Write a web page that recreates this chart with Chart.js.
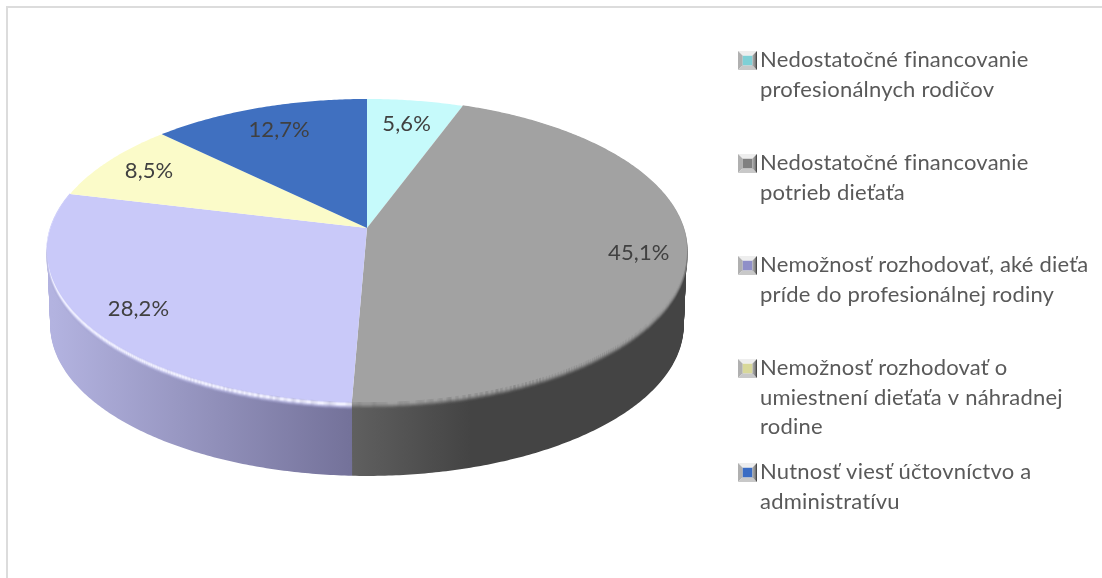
<!DOCTYPE html>
<html lang="sk">
<head>
<meta charset="utf-8">
<title>Graf</title>
<style>
  html, body { margin: 0; padding: 0; background: #fff; overflow: hidden; }
  #ramec { position: absolute; left: 6px; top: 6px; right: 0; bottom: 0; border-left: 2px solid #dcdcdc; border-top: 2px solid #dcdcdc; }
  #obal { position: absolute; left: 0; top: 0; width: 1102px; height: 578px; }
</style>
<script src="https://cdn.jsdelivr.net/npm/chart.js@4/dist/chart.umd.min.js"></script>
</head>
<body>
<div id="ramec"></div>
<div id="obal"><canvas id="graf" width="1102" height="578"></canvas></div>
<script>
const kategorie = [
  "Nedostatočné financovanie profesionálnych rodičov",
  "Nedostatočné financovanie potrieb dieťaťa",
  "Nemožnosť rozhodovať, aké dieťa príde do profesionálnej rodiny",
  "Nemožnosť rozhodovať o umiestnení dieťaťa v náhradnej rodine",
  "Nutnosť viesť účtovníctvo a administratívu",
];
const hodnoty = [5.6, 45.1, 28.2, 8.5, 12.7];
const popisyHodnot = ["5,6%", "45,1%", "28,2%", "8,5%", "12,7%"];
const riadkyLegendy = [
  ["Nedostatočné financovanie", "profesionálnych rodičov"],
  ["Nedostatočné financovanie", "potrieb dieťaťa"],
  ["Nemožnosť rozhodovať, aké dieťa", "príde do profesionálnej rodiny"],
  ["Nemožnosť rozhodovať o", "umiestnení dieťaťa v náhradnej", "rodine"],
  ["Nutnosť viesť účtovníctvo a", "administratívu"],
];
const farby = ["#c6fafb", "#a2a2a2", "#c9c9f9", "#fbfbc9", "#4070c0"];

// Perspektiva: vrchná plocha koláča, spodná plocha je posunutá a trochu menšia
const STRED_X = 367, STRED_Y = 228;
const SIRKA = 316.5, VYSKA = 148.2, K = 0.1485;
const HLBKA = 75, ZMENSENIE = 0.985;
const FONT = "Lato, 'Open Sans', sans-serif";

// Kde v polomere sedí popisok každého výseku
const polomerPopisu = [0.8, 0.854, 0.836, 0.835, 0.793];
// Zvislá poloha prvého riadku každej položky legendy
const legendaY = [60, 163, 265, 368, 472];
const RIADOK = 29.5;
const stredZnacky = ["#7fd0d6", "#808080", "#8f8fc8", "#d8d89a", "#3a6cc4"];

// theta je uhol od vrchu v smere hodinových ručičiek
const bod = (theta, r = 1, dole = 0, mierka = 1) => {
  const u = Math.sin(theta) * r, v = Math.cos(theta) * r;
  const d = 1 + K * v;
  return [STRED_X + (SIRKA * mierka * u) / d, STRED_Y + dole - (VYSKA * mierka * v) / d];
};

const obluk = (ctx, od, po, dole = 0, mierka = 1, zacat = true) => {
  const kroky = Math.max(2, Math.ceil(Math.abs(po - od) / 0.01));
  for (let i = 0; i <= kroky; i++) {
    const [x, y] = bod(od + ((po - od) * i) / kroky, 1, dole, mierka);
    if (i === 0 && zacat) ctx.moveTo(x, y);
    else ctx.lineTo(x, y);
  }
};

const gradientBoku = (ctx, i) => {
  const g = ctx.createLinearGradient(52, 0, 686, 0);
  if (i === 1) {
    g.addColorStop(0.47, "#606060");
    g.addColorStop(0.66, "#444444");
    g.addColorStop(1, "#444444");
    return g;
  }
  g.addColorStop(0, "#b3b3e0");
  g.addColorStop(0.47, "#74729a");
  return g;
};

// Farby hrany medzi vrchom a bokom, po riadkoch odhora nadol
const hrana = {
  1: ["rgba(162,162,162,1)", "rgba(160,160,160,1)", "rgba(156,156,156,1)", "rgba(148,148,148,.9)", "rgba(138,138,138,.75)", "rgba(125,125,125,.55)", "rgba(110,110,110,.35)", "rgba(100,100,100,.15)"],
  2: ["rgba(201,201,249,1)", "rgba(220,220,252,1)", "rgba(240,240,255,1)", "rgba(240,240,255,1)", "rgba(222,222,248,.9)", "rgba(200,200,236,.7)", "rgba(180,180,222,.45)", "rgba(165,165,210,.2)"],
};

const kolac3d = {
  id: "kolac3d",
  beforeDatasetsDraw(chart) {
    const { ctx } = chart;
    const vyseky = chart.getDatasetMeta(0).data;
    const uhly = vyseky.map((a) => [a.startAngle + Math.PI / 2, a.endAngle + Math.PI / 2]);

    ctx.save();
    // bok koláča, vrstvy od vrchnej plochy po spodnú
    uhly.forEach(([od, po], i) => {
      if (i !== 1 && i !== 2) return;
      ctx.strokeStyle = gradientBoku(ctx, i);
      ctx.lineWidth = 3;
      for (let d = 2; d <= HLBKA; d++) {
        ctx.beginPath();
        obluk(ctx, od, po, d, 0.995 - ((0.995 - ZMENSENIE) * d) / HLBKA);
        ctx.stroke();
      }
    });
    // hrana
    uhly.forEach(([od, po], i) => {
      if (!hrana[i]) return;
      hrana[i].forEach((farba, d) => {
        ctx.beginPath();
        obluk(ctx, od, po, d);
        ctx.strokeStyle = farba;
        ctx.lineWidth = 1.2;
        ctx.stroke();
      });
    });
    // vrchná plocha
    uhly.forEach(([od, po], i) => {
      ctx.beginPath();
      ctx.moveTo(STRED_X, STRED_Y);
      obluk(ctx, od, po, 0, 1, false);
      ctx.closePath();
      ctx.fillStyle = farby[i];
      ctx.fill();
    });
    // popisky hodnôt
    ctx.font = "22px " + FONT;
    ctx.letterSpacing = "0.1px";
    ctx.fillStyle = "#404040";
    ctx.textAlign = "center";
    ctx.textBaseline = "middle";
    uhly.forEach(([od, po], i) => {
      const [x, y] = bod((od + po) / 2, polomerPopisu[i]);
      ctx.fillText(popisyHodnot[i], x, y);
    });
    ctx.restore();
    return false;
  },
  afterDraw(chart) {
    const { ctx } = chart;
    ctx.save();
    riadkyLegendy.forEach((riadky, i) => {
      znacka(ctx, 738, legendaY[i] - 9, 19, stredZnacky[i]);
      ctx.font = "22px " + FONT;
      ctx.letterSpacing = "0.2px";
      ctx.fillStyle = "#595959";
      ctx.textAlign = "left";
      ctx.textBaseline = "middle";
      riadky.forEach((text, r) => ctx.fillText(text, 760, legendaY[i] + r * RIADOK));
    });
    ctx.restore();
  },
};

function znacka(ctx, x, y, s, farba) {
  const m = s * 0.25;
  const trojuholnik = (body, f) => {
    ctx.beginPath();
    body.forEach(([a, b], i) => (i ? ctx.lineTo(a, b) : ctx.moveTo(a, b)));
    ctx.closePath();
    ctx.fillStyle = f;
    ctx.fill();
  };
  const A = [x, y], B = [x + s, y], C = [x + s, y + s], D = [x, y + s];
  const a = [x + m, y + m], b = [x + s - m, y + m], c = [x + s - m, y + s - m], d = [x + m, y + s - m];
  trojuholnik([A, B, b, a], "#eeeeee");
  trojuholnik([A, a, d, D], "#b0b0b0");
  trojuholnik([D, d, c, C], "#c8c8c8");
  const g = ctx.createLinearGradient(x + s - m, 0, x + s, 0);
  g.addColorStop(0, "#b0b0b0");
  g.addColorStop(0.6, "#888888");
  g.addColorStop(1, "#333333");
  trojuholnik([B, C, c, b], g);
  ctx.fillStyle = farba;
  ctx.fillRect(a[0], a[1], s - 2 * m, s - 2 * m);
}

new Chart(document.getElementById("graf"), {
  type: "pie",
  data: {
    labels: kategorie,
    datasets: [{ data: hodnoty, backgroundColor: farby, borderWidth: 0 }],
  },
  options: {
    responsive: false,
    animation: false,
    plugins: { legend: { display: false }, tooltip: { enabled: false } },
  },
  plugins: [kolac3d],
});
</script>
</body>
</html>
